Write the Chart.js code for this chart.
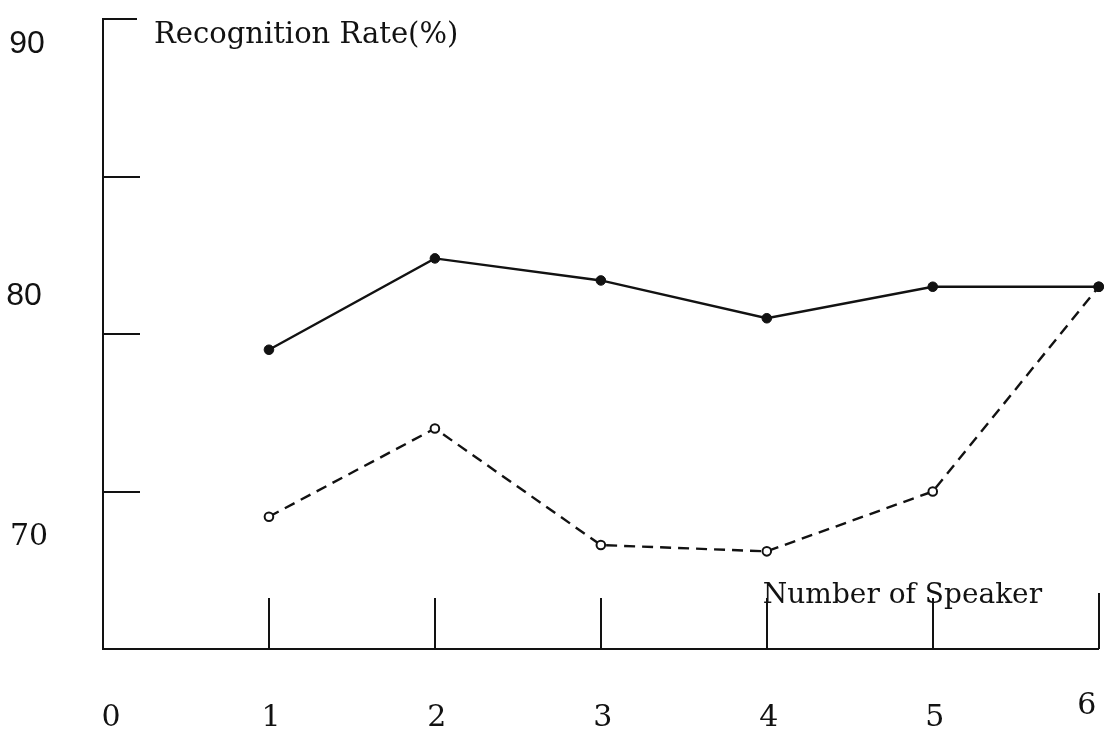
<!DOCTYPE html>
<html>
<head>
<meta charset="utf-8">
<script src="https://cdn.jsdelivr.net/npm/chart.js@4.4.1/dist/chart.umd.min.js"></script>
<style>
  html, body { margin: 0; padding: 0; background: #ffffff; }
  canvas { display: block; }
</style>
</head>
<body>
<canvas id="chart" width="1105" height="731"></canvas>
<script>
// Recognition rate against the number of training speakers
const speakerCounts = [1, 2, 3, 4, 5, 6];
const rateSolid  = [79.5, 82.4, 81.7, 80.5, 81.5, 81.5];
const rateDashed = [74.2, 77.0, 73.3, 73.1, 75.0, 81.5];

const xTickLabels = ['0', '1', '2', '3', '4', '5', '6'];
const yLabelValues = [90, 80, 70];
const yLabelTexts = ['90', '80', '70'];

const yAxisTitle = 'Recognition Rate(%)';
const xAxisTitle = 'Number of Speaker';

const INK = '#121212';
const SERIF = '"DejaVu Serif", "Liberation Serif", serif';
const SANS = '"Liberation Sans", Arimo, sans-serif';

// hand-placed label styling: offsets are relative to the tick each label belongs to
const yLabelStyle = [
  { font: '32px ' + SANS,  cx: -76, base: 34 },
  { font: '32px ' + SANS,  cx: -79, base: -29 },
  { font: '30px ' + SERIF, cx: -74, base: -104 }
];

const axisDecor = {
  id: 'axisDecor',
  beforeDatasetsDraw(chart) {
    const { ctx, chartArea, scales } = chart;
    ctx.save();
    ctx.strokeStyle = INK;
    ctx.lineWidth = 2;
    ctx.lineCap = 'butt';
    // inward tick marks on the vertical axis
    scales.y.ticks.forEach(t => {
      if (t.value === scales.y.min) return;
      const y = Math.round(scales.y.getPixelForValue(t.value));
      const len = t.value === scales.y.max ? 34 : 37;
      ctx.beginPath();
      ctx.moveTo(chartArea.left, y);
      ctx.lineTo(chartArea.left + len, y);
      ctx.stroke();
    });
    // upward tick marks on the horizontal axis
    scales.x.ticks.forEach(t => {
      if (t.value === scales.x.min) return;
      const x = Math.round(scales.x.getPixelForValue(t.value));
      const len = t.value === scales.x.max ? 56 : 51;
      ctx.beginPath();
      ctx.moveTo(x, chartArea.bottom);
      ctx.lineTo(x, chartArea.bottom - len);
      ctx.stroke();
    });
    ctx.restore();
  },
  afterDraw(chart) {
    const { ctx, chartArea, scales } = chart;
    ctx.save();
    ctx.fillStyle = INK;
    ctx.textBaseline = 'alphabetic';

    // value labels on the vertical axis
    ctx.textAlign = 'center';
    yLabelValues.forEach((v, i) => {
      const st = yLabelStyle[i];
      ctx.font = st.font;
      ctx.fillText(yLabelTexts[i], chartArea.left + st.cx, scales.y.getPixelForValue(v) + st.base);
    });

    // count labels under the horizontal axis
    ctx.font = '30px ' + SERIF;
    xTickLabels.forEach((lab, i) => {
      let x = scales.x.getPixelForValue(i) + 2;
      let y = chartArea.bottom + 77;
      if (i === 0) x += 6;
      if (i === xTickLabels.length - 1) { x -= 14; y -= 12; }
      ctx.fillText(lab, x, y);
    });

    // axis titles
    ctx.textAlign = 'left';
    ctx.font = '29px ' + SERIF;
    ctx.fillText(yAxisTitle, chartArea.left + 51, chartArea.top + 24);
    ctx.font = '28px ' + SERIF;
    ctx.fillText(xAxisTitle, scales.x.getPixelForValue(4) - 4, chartArea.bottom - 46);
    ctx.restore();
  }
};

const toPoints = arr => speakerCounts.map((x, i) => ({ x, y: arr[i] }));

new Chart(document.getElementById('chart').getContext('2d'), {
  type: 'line',
  data: {
    datasets: [
      {
        label: 'solid',
        data: toPoints(rateSolid),
        borderColor: INK,
        borderWidth: 2.4,
        pointRadius: 4.8,
        pointBackgroundColor: INK,
        pointBorderColor: INK,
        pointBorderWidth: 1,
        tension: 0,
        clip: false,
        order: 0
      },
      {
        label: 'dashed',
        data: toPoints(rateDashed),
        borderColor: INK,
        borderWidth: 2.4,
        borderDash: [11, 7],
        pointRadius: 4.3,
        pointBackgroundColor: '#ffffff',
        pointBorderColor: INK,
        pointBorderWidth: 2,
        tension: 0,
        clip: false,
        order: 1
      }
    ]
  },
  options: {
    responsive: false,
    animation: false,
    devicePixelRatio: 1,
    layout: { padding: { left: 103, right: 6, top: 19, bottom: 82 } },
    plugins: { legend: { display: false }, tooltip: { enabled: false } },
    scales: {
      x: {
        type: 'linear', min: 0, max: 6,
        ticks: { display: false, stepSize: 1 },
        grid: { drawOnChartArea: false, drawTicks: false },
        border: { display: true, color: INK, width: 2 }
      },
      y: {
        type: 'linear', min: 70, max: 90,
        ticks: { display: false, stepSize: 5 },
        grid: { drawOnChartArea: false, drawTicks: false },
        border: { display: true, color: INK, width: 2 }
      }
    }
  },
  plugins: [axisDecor]
});
</script>
</body>
</html>
